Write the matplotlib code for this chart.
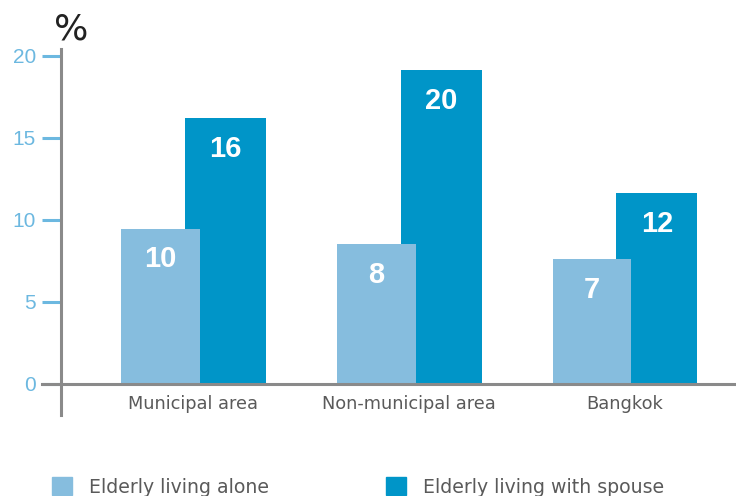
import matplotlib.pyplot as plt
from matplotlib.patches import Patch

# data
areas = ["Municipal area", "Non-municipal area", "Bangkok"]
alone = [9.45, 8.5, 7.6]
with_spouse = [16.2, 19.1, 11.6]
alone_labels = ["10", "8", "7"]
spouse_labels = ["16", "20", "12"]
yticks = [0, 5, 10, 15, 20]
series_names = ["Elderly living alone", "Elderly living with spouse"]

light = "#86BDDE"
dark = "#0095C8"
tick_blue = "#6CB8E0"
axis_gray = "#8A8A8A"
text_gray = "#5A5A5A"

W, H = 736, 496
fig = plt.figure(figsize=(W / 100, H / 100), dpi=100)

# axes box in pixels (from top-left): spine x=61, y from 49 to 415
ax = fig.add_axes([61 / W, (H - 415) / H, (W - 61) / W, (415 - 49) / H])

x = list(range(len(areas)))
off = 0.15
ax.bar([i + off for i in x], with_spouse, width=0.375, color=dark, zorder=2)
ax.bar([i - off for i in x], alone, width=0.365, color=light, zorder=3)

for i in x:
    ax.annotate(alone_labels[i], (i - off, alone[i]), xytext=(0, -22),
                textcoords="offset points", ha="center", va="center",
                color="white", fontsize=21, fontweight="bold",
                family="Liberation Sans", zorder=5)
    ax.annotate(spouse_labels[i], (i + off, with_spouse[i]), xytext=(0, -22),
                textcoords="offset points", ha="center", va="center",
                color="white", fontsize=21, fontweight="bold",
                family="Liberation Sans", zorder=5)
    ax.annotate(areas[i], (i, 0), xytext=(0, -8), textcoords="offset points",
                ha="center", va="top", color=text_gray, fontsize=12.8,
                family="DejaVu Sans", annotation_clip=False)

ax.set_xlim(-0.612, 2.517)
ax.set_ylim(-1.89, 20.4)

ax.set_yticks(yticks)
ax.set_yticklabels([str(t) for t in yticks], family="Liberation Sans",
                   fontsize=15, color=tick_blue)
ax.tick_params(axis="y", length=14, width=2.2, color=tick_blue, pad=4)
ax.set_xticks([])

for s in ["top", "right", "bottom"]:
    ax.spines[s].set_visible(False)
ax.spines["left"].set_color(axis_gray)
ax.spines["left"].set_linewidth(2.2)

ax.axhline(0, xmin=-19 / (W - 61), xmax=1, color=axis_gray, lw=2.2,
           clip_on=False, zorder=4)

fig.text(71 / W, 1 - 30 / H, "%", fontsize=26, color="#222222",
         ha="center", va="center")

handles = [Patch(color=light), Patch(color=dark)]
fig.legend(handles, series_names, loc="center left",
           bbox_to_anchor=(52 / W, 9 / H), ncol=2, frameon=False,
           prop={"family": "DejaVu Sans", "size": 13.6},
           labelcolor=text_gray, handlelength=1.05,
           handleheight=1.1, handletextpad=0.9, columnspacing=6.2,
           borderpad=0, borderaxespad=0)

fig.savefig("out.png", dpi=100)
